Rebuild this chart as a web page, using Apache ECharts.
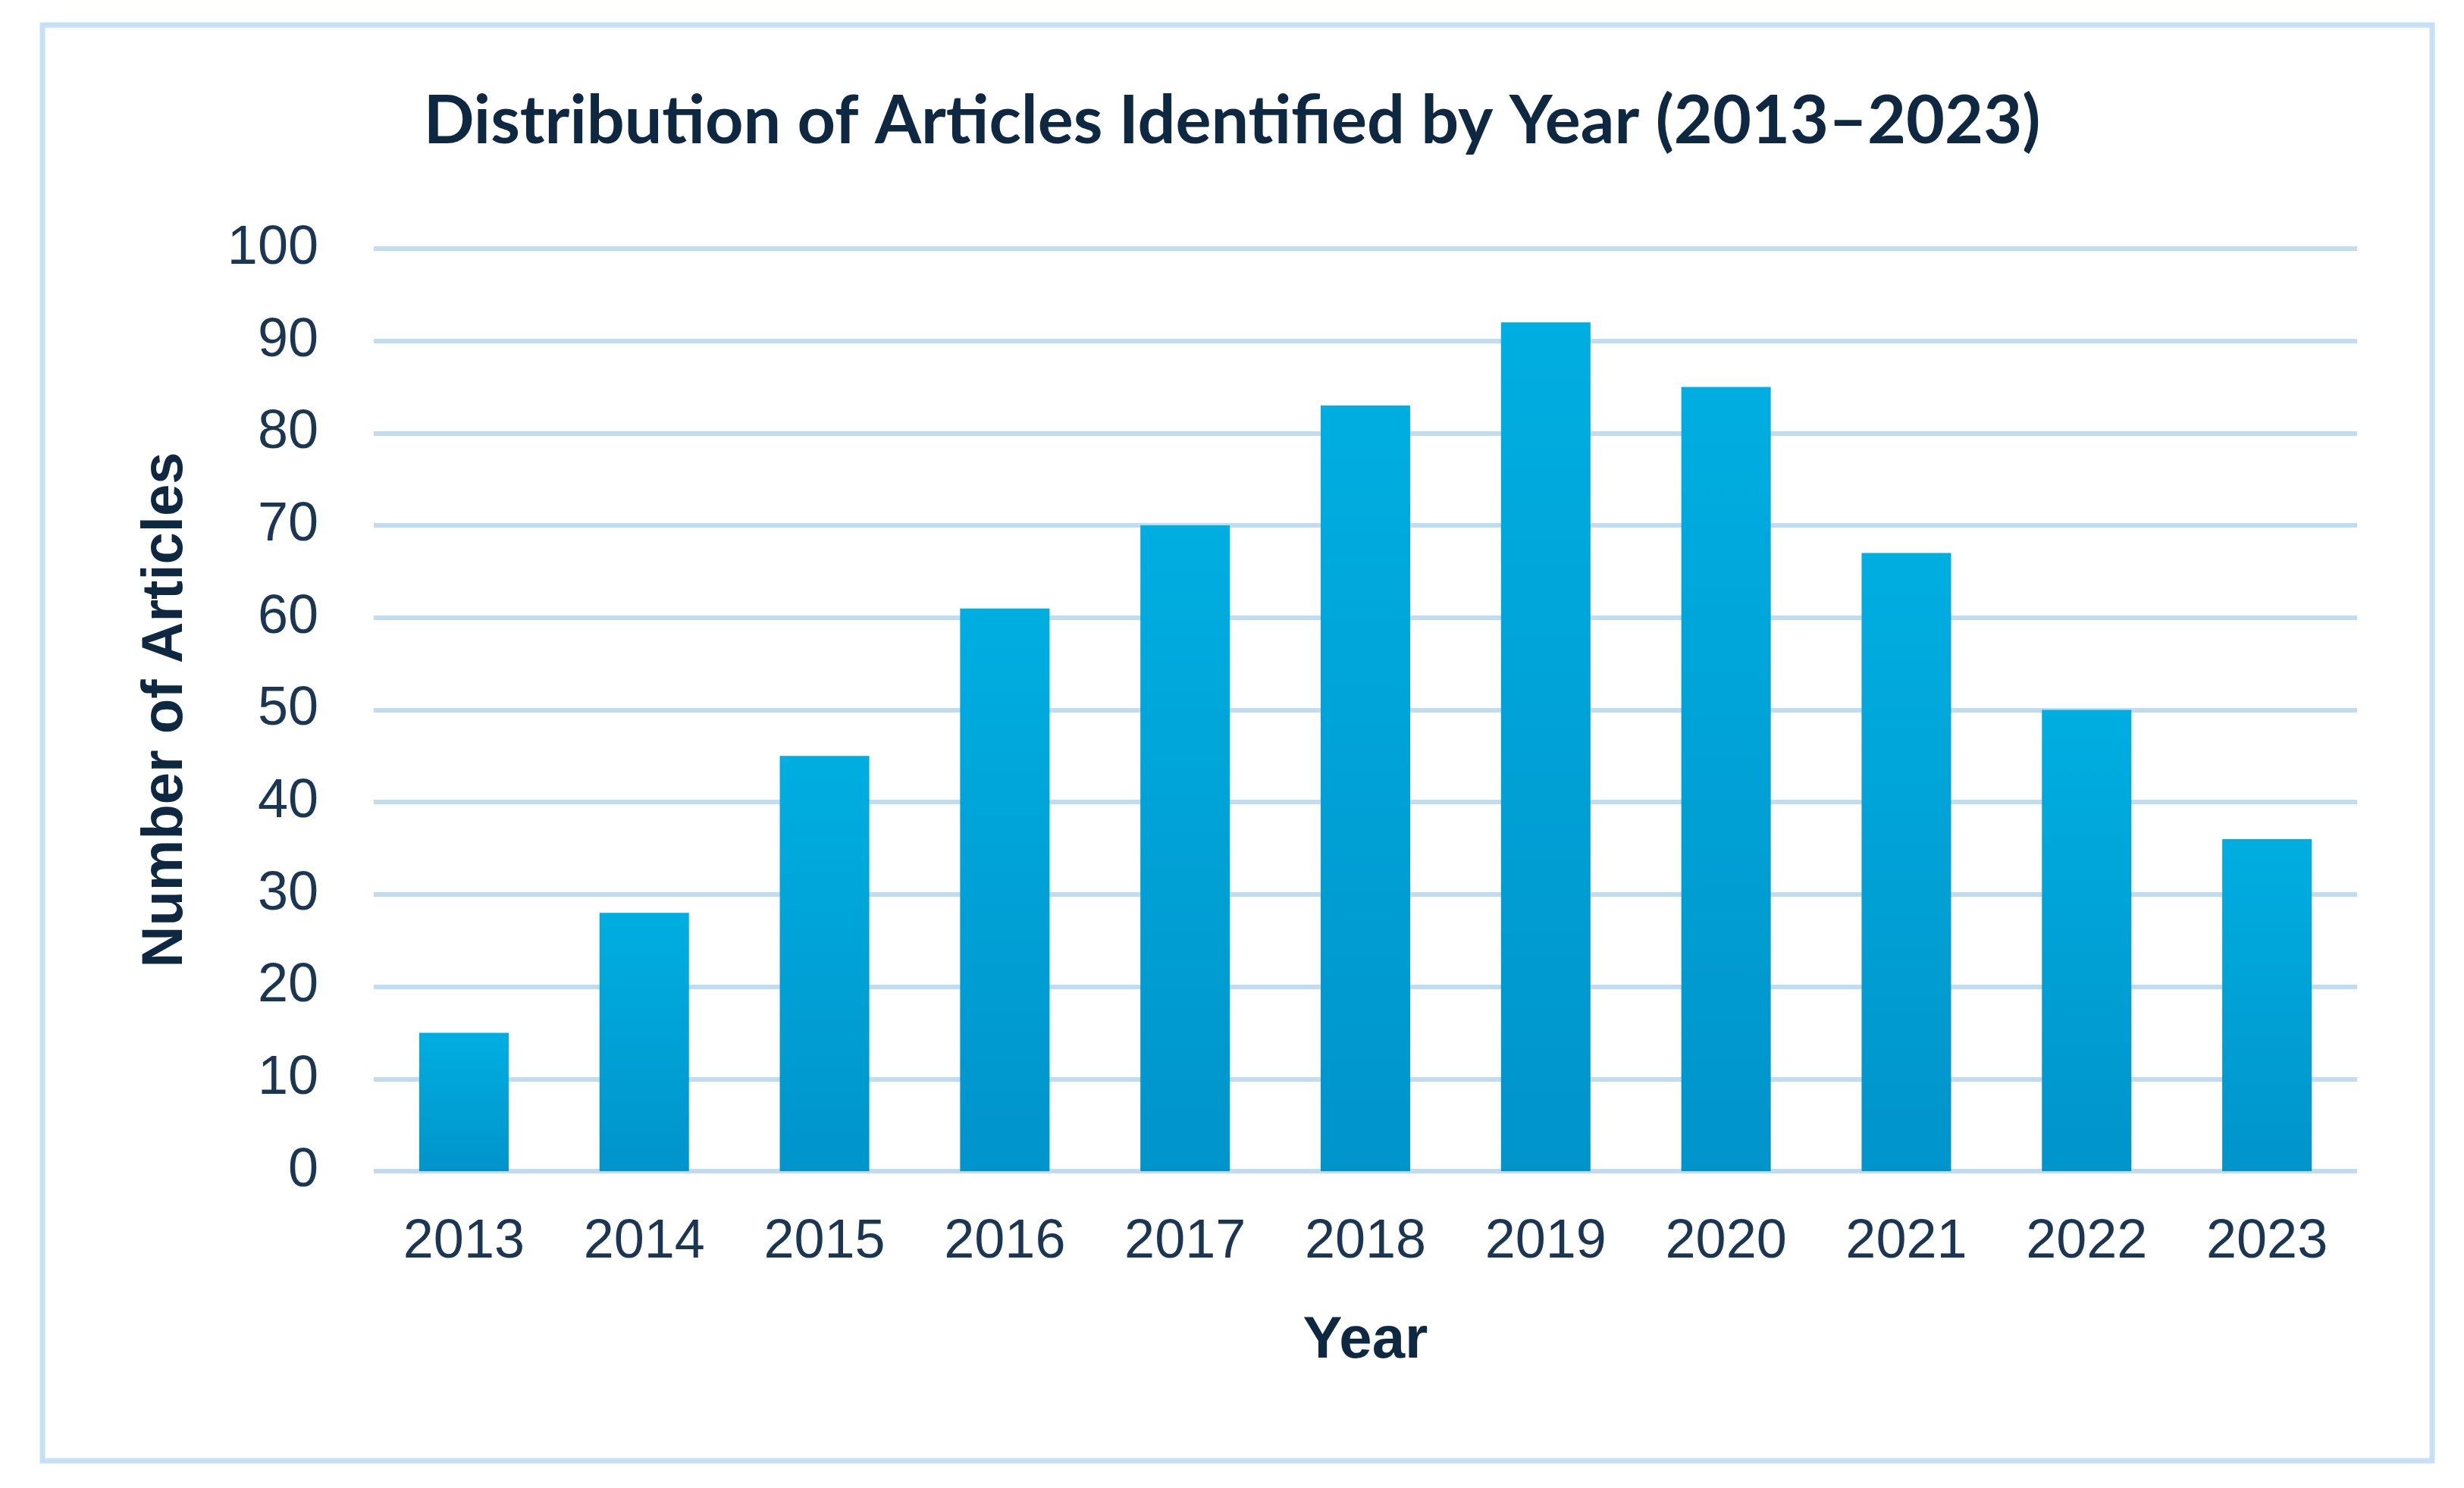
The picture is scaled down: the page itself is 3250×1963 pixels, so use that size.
<!DOCTYPE html>
<html>
<head>
  <title>Distribution of Articles Identified by Year</title>
  <meta http-equiv="Content-Type" content="text/html; charset=utf-8">
  <script src="https://cdn.jsdelivr.net/npm/echarts@6/dist/echarts.min.js"></script>
  <style>
    html, body { margin: 0; padding: 0; background: #ffffff; }
  </style>
</head>
<body>
  <div id="chart" style="width: 3250px;height:1963px;"></div>
  <script type="application/javascript">
      var years = ['2013', '2014', '2015', '2016', '2017', '2018', '2019', '2020', '2021', '2022', '2023'];
      var articles = [15, 28, 45, 61, 70, 83, 92, 85, 67, 50, 36];
      var yTicks = {min: 0, max: 100, step: 10};

      var textColor = '#1b3652';
      var myChart = echarts.init(document.getElementById('chart'));
      myChart.setOption({
          backgroundColor: '#ffffff',
          animation: false,
          title: {
              text: 'Distribution of Articles Identified by Year (2013\u20132023)',
              left: 'center',
              top: 112,
              textStyle: {
                  fontFamily: 'Lato',
                  fontWeight: 'bold',
                  fontSize: 88,
                  color: '#0e2841'
              }
          },
          graphic: [{
              type: 'rect',
              shape: {x: 56, y: 33, width: 3152, height: 1894},
              style: {fill: 'none', stroke: '#c5e0f7', lineWidth: 7},
              silent: true
          }],
          grid: {
              left: 493,
              right: 141,
              top: 328,
              bottom: 418
          },
          xAxis: {
              type: 'category',
              data: years,
              name: 'Year',
              nameLocation: 'middle',
              nameGap: 224,
              nameTextStyle: {
                  fontFamily: 'Liberation Sans',
                  fontWeight: 'bold',
                  fontSize: 78,
                  color: '#0e2841',
                  verticalAlign: 'middle'
              },
              axisLine: {show: false},
              axisTick: {show: false},
              axisLabel: {
                  margin: 58,
                  fontFamily: 'Liberation Sans',
                  fontSize: 72,
                  color: textColor
              }
          },
          yAxis: {
              type: 'value',
              min: yTicks.min,
              max: yTicks.max,
              interval: yTicks.step,
              name: 'Number of Articles',
              nameLocation: 'middle',
              nameGap: 274,
              nameTextStyle: {
                  fontFamily: 'Liberation Sans',
                  fontWeight: 'bold',
                  fontSize: 76,
                  color: '#0e2841',
                  verticalAlign: 'middle'
              },
              axisLine: {show: false},
              axisTick: {show: false},
              axisLabel: {
                  margin: 73,
                  fontFamily: 'Liberation Sans',
                  fontSize: 72,
                  color: textColor
              },
              splitLine: {
                  lineStyle: {color: '#c0dcf3', width: 6}
              }
          },
          series: [
              {
                  name: 'Number of Articles',
                  type: 'bar',
                  data: articles,
                  barWidth: 118,
                  itemStyle: {
                      color: new echarts.graphic.LinearGradient(0, 0, 0, 1, [
                          {offset: 0, color: '#00aee1'},
                          {offset: 1, color: '#0094cb'}
                      ])
                  }
              }
          ]
      });
  </script>
</body>
</html>
